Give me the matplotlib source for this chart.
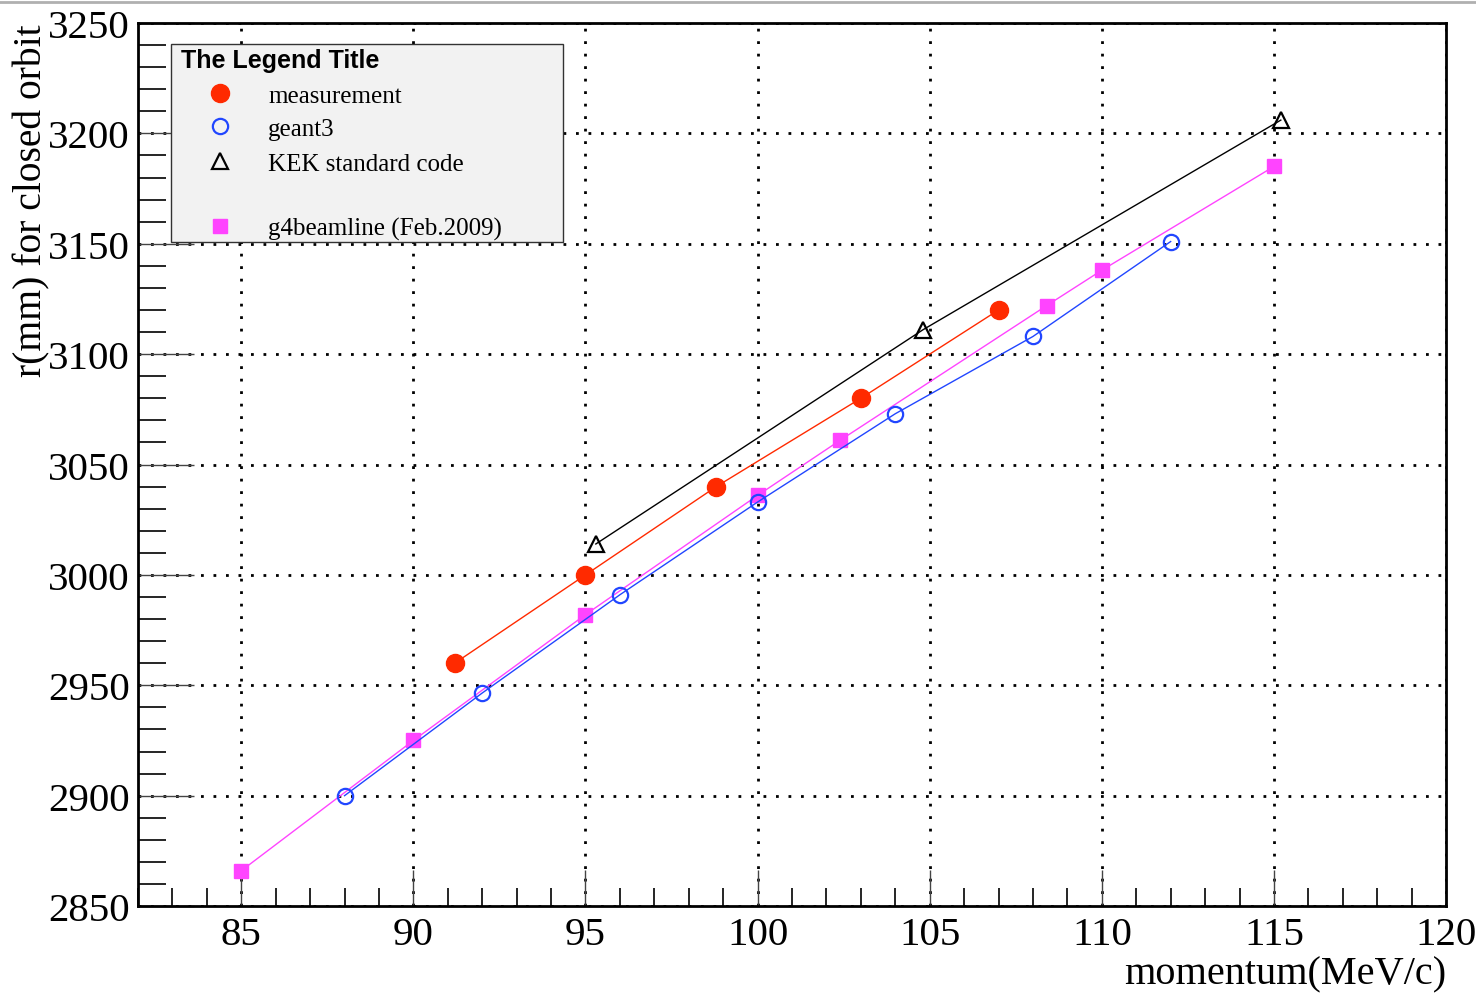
import numpy as np
import matplotlib

matplotlib.use('Agg')
import matplotlib.pyplot as plt
from matplotlib.lines import Line2D
from matplotlib.patches import Rectangle
from matplotlib.ticker import MultipleLocator

# data
meas_p = [91.2, 95.0, 98.8, 103.0, 107.0]
meas_r = [2960, 3000, 3040, 3080, 3120]

geant_p = [88.0, 92.0, 96.0, 100.0, 104.0, 108.0, 112.0]
geant_r = [2900, 2946.5, 2991, 3033, 3073, 3108, 3151]

kek_p = [95.3, 104.8, 115.2]
kek_r = [3014, 3111, 3206]

g4bl_p = [85.0, 90.0, 95.0, 100.0, 102.4, 108.4, 110.0, 115.0]
g4bl_r = [2866, 2925, 2982, 3036, 3061, 3122, 3138, 3185]

legend_labels = ['measurement', 'geant3', 'KEK standard code', 'g4beamline (Feb.2009)']
legend_rows = [0.9207, 0.8834, 0.8437, 0.7701]

RED = '#ff2a00'
BLUE = '#2146ff'
MAGENTA = '#ff44ff'

plt.rcParams['font.family'] = ['Liberation Serif', 'DejaVu Serif']

fig = plt.figure(figsize=(14.76, 9.95), dpi=100)
ax = fig.add_axes([0.0935, 0.0884, 0.8862, 0.8875])

styles = [
    dict(marker='o', ms=13, mfc=RED, mec=RED, color=RED),
    dict(marker='o', ms=11, mfc='none', mec=BLUE, mew=1.6, color=BLUE),
    dict(marker='^', ms=11, mfc='none', mec='black', mew=1.6, color='black'),
    dict(marker='s', ms=9.5, mfc=MAGENTA, mec=MAGENTA, color=MAGENTA),
]

ax.plot(kek_p, kek_r, lw=1, zorder=4, **styles[2])
ax.plot(g4bl_p, g4bl_r, lw=1, zorder=3, **styles[3])
ax.plot(geant_p, geant_r, lw=1, zorder=3, **styles[1])
ax.plot(meas_p, meas_r, lw=1, zorder=5, **styles[0])

ax.set_xlim(82, 120)
ax.set_ylim(2850, 3250)
ax.xaxis.set_major_locator(MultipleLocator(5))
ax.xaxis.set_minor_locator(MultipleLocator(1))
ax.yaxis.set_major_locator(MultipleLocator(50))
ax.yaxis.set_minor_locator(MultipleLocator(10))

ax.grid(True, which='major', color='black', linestyle=(0, (1, 3.5)), lw=2)
ax.set_axisbelow(True)

ax.tick_params(axis='x', which='major', direction='in', length=26, width=1.0,
               color='#444444', labelsize=29.5, pad=7, top=False)
ax.tick_params(axis='x', which='minor', direction='in', length=13, width=1.2, top=False)
ax.tick_params(axis='y', which='major', direction='in', length=40, width=1.0,
               color='#444444', labelsize=29.5, pad=6, right=False)
ax.tick_params(axis='y', which='minor', direction='in', length=20, width=1.2, right=False)
for s in ax.spines.values():
    s.set_linewidth(2)

ax.set_xlabel('momentum(MeV/c)', fontsize=29, loc='right', labelpad=2)
ax.set_ylabel('r(mm) for closed orbit', fontsize=28.5, loc='top')
ax.yaxis.set_label_coords(-0.067, 1.0)

# legend box drawn by hand to match the original frame
ax.add_patch(Rectangle((0.0252, 0.752), 0.2997, 0.2242, transform=ax.transAxes,
                       facecolor='#f2f2f2', edgecolor='#333333', lw=1, zorder=10))
ax.text(0.0329, 0.958, 'The Legend Title', transform=ax.transAxes, fontsize=18,
        family='Liberation Sans', weight='bold', va='center', ha='left', zorder=11)
for st, lab, yy in zip(styles, legend_labels, legend_rows):
    st = dict(st)
    st.pop('color')
    ax.plot([0.0627], [yy], transform=ax.transAxes, ls='none', zorder=11,
            clip_on=False, **st)
    ax.text(0.0994, yy - 0.003, lab, transform=ax.transAxes, fontsize=18,
            va='center', ha='left', zorder=11)

# thin grey line along the top of the canvas
fig.add_artist(Line2D([0, 1], [0.997, 0.997], color='#b0b0b0', lw=2,
                      transform=fig.transFigure))

fig.savefig('out.png', dpi=100)
